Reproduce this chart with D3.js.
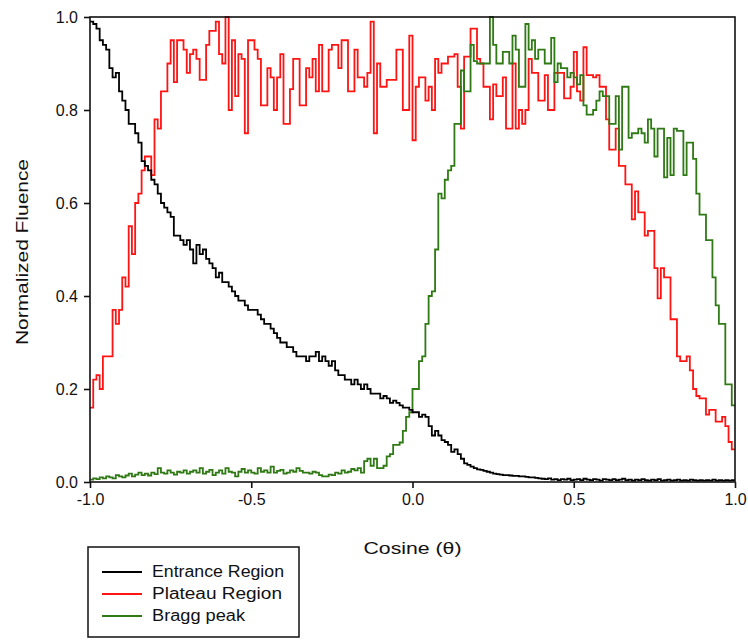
<!DOCTYPE html>
<html>
<head>
<meta charset="utf-8">
<script src="https://cdn.jsdelivr.net/npm/d3@7"></script>
<style>
  html, body { margin: 0; padding: 0; background: #ffffff; }
  svg { display: block; }
  text { font-family: "Liberation Sans", Arial, sans-serif; fill: #111; }
</style>
</head>
<body>
<svg id="chart" width="748" height="640"></svg>
<script>
// ---------- DATA ----------
const binCount = 200;                 // histogram bins over cos(theta) in [-1, 1]
const xDomain = [-1, 1];
const yDomain = [0, 1];
const xTickValues = [-1.0, -0.5, 0.0, 0.5, 1.0];
const yTickValues = [0.0, 0.2, 0.4, 0.6, 0.8, 1.0];
const seriesNames = ["Entrance Region", "Plateau Region", "Bragg peak"];
const xTitle = "Cosine (\u03B8)";
const yTitle = "Normalized Fluence";

const entrance = [
  0.99, 0.985, 0.975, 0.95, 0.94, 0.93, 0.89, 0.87, 0.88, 0.84,
  0.82, 0.80, 0.77, 0.77, 0.75, 0.73, 0.69, 0.68, 0.67, 0.65,
  0.64, 0.62, 0.60, 0.59, 0.58, 0.57, 0.53, 0.53, 0.52, 0.51,
  0.52, 0.50, 0.47, 0.51, 0.49, 0.50, 0.48, 0.47, 0.46, 0.44,
  0.45, 0.43, 0.43, 0.42, 0.41, 0.40, 0.39, 0.39, 0.38, 0.37,
  0.37, 0.37, 0.36, 0.35, 0.34, 0.34, 0.33, 0.32, 0.31, 0.30,
  0.30, 0.29, 0.29, 0.28, 0.27, 0.27, 0.27, 0.26, 0.27, 0.27,
  0.28, 0.26, 0.27, 0.26, 0.25, 0.26, 0.24, 0.23, 0.23, 0.22,
  0.22, 0.21, 0.22, 0.21, 0.20, 0.21, 0.20, 0.19, 0.19, 0.19,
  0.18, 0.185, 0.18, 0.17, 0.175, 0.17, 0.165, 0.16, 0.16, 0.155,
  0.15, 0.15, 0.14, 0.145, 0.14, 0.12, 0.10, 0.11, 0.10, 0.09,
  0.086, 0.08, 0.065, 0.07, 0.06, 0.05, 0.04, 0.037, 0.033, 0.03,
  0.027, 0.026, 0.024, 0.022, 0.02, 0.018, 0.017, 0.016, 0.015, 0.015,
  0.014, 0.013, 0.013, 0.012, 0.012, 0.011, 0.01, 0.01, 0.009, 0.008,
  0.007, 0.006, 0.008, 0.005, 0.006, 0.004, 0.006, 0.005, 0.007, 0.004,
  0.005, 0.006, 0.004, 0.007, 0.005, 0.004, 0.006, 0.005, 0.003, 0.006,
  0.005, 0.004, 0.006, 0.004, 0.005, 0.007, 0.004, 0.005, 0.003, 0.005,
  0.004, 0.006, 0.004, 0.003, 0.005, 0.004, 0.006, 0.003, 0.004, 0.005,
  0.003, 0.004, 0.005, 0.003, 0.004, 0.003, 0.005, 0.004, 0.003, 0.004,
  0.003, 0.004, 0.003, 0.005, 0.003, 0.004, 0.003, 0.004, 0.003, 0.004
];

const plateau = [
  0.16, 0.22, 0.23, 0.20, 0.27, 0.27, 0.27, 0.37, 0.34, 0.37,
  0.44, 0.42, 0.55, 0.49, 0.60, 0.62, 0.67, 0.70, 0.70, 0.66,
  0.78, 0.76, 0.84, 0.84, 0.90, 0.95, 0.86, 0.95, 0.95, 0.93,
  0.88, 0.92, 0.93, 0.91, 0.865, 0.865, 0.94, 0.97, 0.97, 0.99,
  0.92, 0.90, 1.0, 0.80, 0.95, 0.83, 0.92, 0.91, 0.75, 0.95,
  0.95, 0.93, 0.91, 0.81, 0.81, 0.89, 0.87, 0.80, 0.87, 0.92,
  0.77, 0.77, 0.845, 0.91, 0.91, 0.81, 0.81, 0.89, 0.87, 0.91,
  0.84, 0.94, 0.84, 0.84, 0.93, 0.94, 0.94, 0.89, 0.95, 0.95,
  0.84, 0.84, 0.93, 0.87, 0.87, 0.85, 0.88, 0.99, 0.75, 0.90,
  0.85, 0.85, 0.865, 0.865, 0.865, 0.93, 0.93, 0.80, 0.80, 0.96,
  0.735, 0.85, 0.87, 0.87, 0.82, 0.85, 0.80, 0.91, 0.88, 0.90,
  0.90, 0.915, 0.915, 0.92, 0.85, 0.76, 0.915, 0.915, 0.975, 0.975,
  0.91, 0.90, 0.85, 0.85, 0.78, 0.855, 0.83, 0.83, 0.87, 0.76,
  0.76, 0.90, 0.76, 0.80, 0.77, 0.80, 0.91, 0.88, 0.88, 0.82,
  0.82, 0.875, 0.80, 0.80, 0.88, 0.88, 0.88, 0.825, 0.825, 0.85,
  0.925, 0.84, 0.82, 0.935, 0.875, 0.875, 0.87, 0.875, 0.85, 0.85,
  0.78, 0.715, 0.715, 0.76, 0.68, 0.68, 0.64, 0.64, 0.565, 0.625,
  0.58, 0.58, 0.53, 0.54, 0.54, 0.46, 0.395, 0.46, 0.44, 0.44,
  0.35, 0.35, 0.27, 0.26, 0.26, 0.27, 0.24, 0.20, 0.185, 0.18,
  0.18, 0.145, 0.155, 0.155, 0.13, 0.13, 0.14, 0.12, 0.086, 0.07
];

const bragg = [
  0.005, 0.008, 0.006, 0.01, 0.008, 0.012, 0.01, 0.008, 0.015, 0.012,
  0.01, 0.014, 0.018, 0.012, 0.016, 0.02, 0.015, 0.018, 0.014, 0.02,
  0.017, 0.03, 0.02, 0.018, 0.025, 0.02, 0.016, 0.022, 0.02, 0.025,
  0.018, 0.022, 0.025, 0.02, 0.03, 0.018, 0.022, 0.026, 0.015, 0.02,
  0.025, 0.018, 0.03, 0.022, 0.02, 0.012, 0.022, 0.028, 0.02, 0.025,
  0.02, 0.018, 0.03, 0.022, 0.025, 0.02, 0.033, 0.02, 0.024, 0.026,
  0.018, 0.02, 0.025, 0.022, 0.03, 0.024, 0.02, 0.02, 0.018, 0.022,
  0.02, 0.015, 0.012, 0.012, 0.016, 0.015, 0.02, 0.018, 0.025, 0.02,
  0.022, 0.028, 0.025, 0.03, 0.02, 0.045, 0.05, 0.035, 0.05, 0.03,
  0.03, 0.035, 0.055, 0.06, 0.08, 0.08, 0.085, 0.11, 0.14, 0.15,
  0.20, 0.20, 0.26, 0.27, 0.34, 0.40, 0.41, 0.50, 0.62, 0.61,
  0.65, 0.67, 0.68, 0.77, 0.77, 0.885, 0.84, 0.84, 0.94, 0.905,
  0.90, 0.90, 0.90, 0.90, 1.0, 0.94, 0.90, 0.90, 0.925, 0.925,
  0.90, 0.96, 0.93, 0.85, 0.85, 0.985, 0.93, 0.95, 0.91, 0.93,
  0.93, 0.90, 0.90, 0.955, 0.86, 0.90, 0.89, 0.89, 0.87, 0.88,
  0.87, 0.855, 0.875, 0.81, 0.79, 0.79, 0.80, 0.82, 0.84, 0.83,
  0.83, 0.77, 0.77, 0.83, 0.715, 0.85, 0.85, 0.74, 0.75, 0.75,
  0.76, 0.75, 0.73, 0.78, 0.76, 0.70, 0.76, 0.76, 0.655, 0.74,
  0.66, 0.76, 0.755, 0.755, 0.66, 0.73, 0.73, 0.695, 0.62, 0.575,
  0.575, 0.52, 0.52, 0.44, 0.38, 0.34, 0.34, 0.21, 0.21, 0.165
];

const seriesValues = [entrance, plateau, bragg];
const seriesColors = ["#000000", "#ff1414", "#2f7a14"];
const drawOrder = [1, 2, 0];

// ---------- LAYOUT ----------
const svg = d3.select("#chart");
const margin = { left: 90, top: 17, right: 13, bottom: 158 };
const W = 748, H = 640;
const iw = W - margin.left - margin.right;
const ih = H - margin.top - margin.bottom;

const x = d3.scaleLinear().domain(xDomain).range([0, iw]);
const y = d3.scaleLinear().domain(yDomain).range([ih, 0]);
const binEdges = d3.range(binCount + 1).map(i => xDomain[0] + (xDomain[1] - xDomain[0]) * i / binCount);

const g = svg.append("g").attr("transform", `translate(${margin.left},${margin.top})`);

const line = d3.line()
  .x(d => x(d[0]))
  .y(d => y(d[1]))
  .curve(d3.curveStepAfter);

drawOrder.forEach(si => {
  const vals = seriesValues[si];
  const pts = vals.map((v, i) => [binEdges[i], v]);
  pts.push([binEdges[binCount], vals[vals.length - 1]]);
  g.append("path")
    .datum(pts)
    .attr("fill", "none")
    .attr("stroke", seriesColors[si])
    .attr("stroke-width", 1.8)
    .attr("stroke-linejoin", "miter")
    .attr("d", line);
});

// frame
g.append("rect")
  .attr("x", 0).attr("y", 0).attr("width", iw).attr("height", ih)
  .attr("fill", "none").attr("stroke", "#111").attr("stroke-width", 1.6);

// axes
const xAxis = d3.axisBottom(x).tickValues(xTickValues).tickFormat(d3.format(".1f")).tickSize(6).tickPadding(6);
const yAxis = d3.axisLeft(y).tickValues(yTickValues).tickFormat(d3.format(".1f")).tickSize(6).tickPadding(6);

const gx = g.append("g").attr("transform", `translate(0,${ih})`).call(xAxis);
const gy = g.append("g").call(yAxis);
[gx, gy].forEach(a => {
  a.select(".domain").remove();
  a.selectAll(".tick line").attr("stroke", "#111").attr("stroke-width", 1.6);
  a.selectAll(".tick text")
    .attr("font-family", "'Liberation Sans', Arial, sans-serif")
    .attr("font-size", 16).attr("fill", "#111");
});
gx.selectAll(".tick text").text(d => d3.format(".1f")(d).replace("\u2212", "-"));
gy.selectAll(".tick text").text(d => d3.format(".1f")(d).replace("\u2212", "-"));

// axis titles
svg.append("text")
  .attr("x", margin.left + x(0)).attr("y", 554)
  .attr("text-anchor", "middle")
  .attr("font-size", 17)
  .attr("textLength", 98).attr("lengthAdjust", "spacingAndGlyphs")
  .text(xTitle);

svg.append("text")
  .attr("transform", `translate(28,252) rotate(-90)`)
  .attr("text-anchor", "middle")
  .attr("font-size", 17)
  .attr("textLength", 186).attr("lengthAdjust", "spacingAndGlyphs")
  .text(yTitle);

// legend
const legendTextLen = [132, 130, 93];
const lg = svg.append("g").attr("transform", "translate(88,547)");
lg.append("rect")
  .attr("x", 0).attr("y", 0).attr("width", 211).attr("height", 90)
  .attr("fill", "#fff").attr("stroke", "#111").attr("stroke-width", 1.5);
seriesNames.forEach((name, i) => {
  const yy = 25 + i * 22;
  lg.append("line")
    .attr("x1", 14).attr("x2", 54).attr("y1", yy).attr("y2", yy)
    .attr("stroke", seriesColors[i]).attr("stroke-width", 1.8);
  lg.append("text")
    .attr("x", 64).attr("y", yy + 5)
    .attr("font-size", 16)
    .attr("textLength", legendTextLen[i]).attr("lengthAdjust", "spacingAndGlyphs")
    .text(name);
});
</script>
</body>
</html>
